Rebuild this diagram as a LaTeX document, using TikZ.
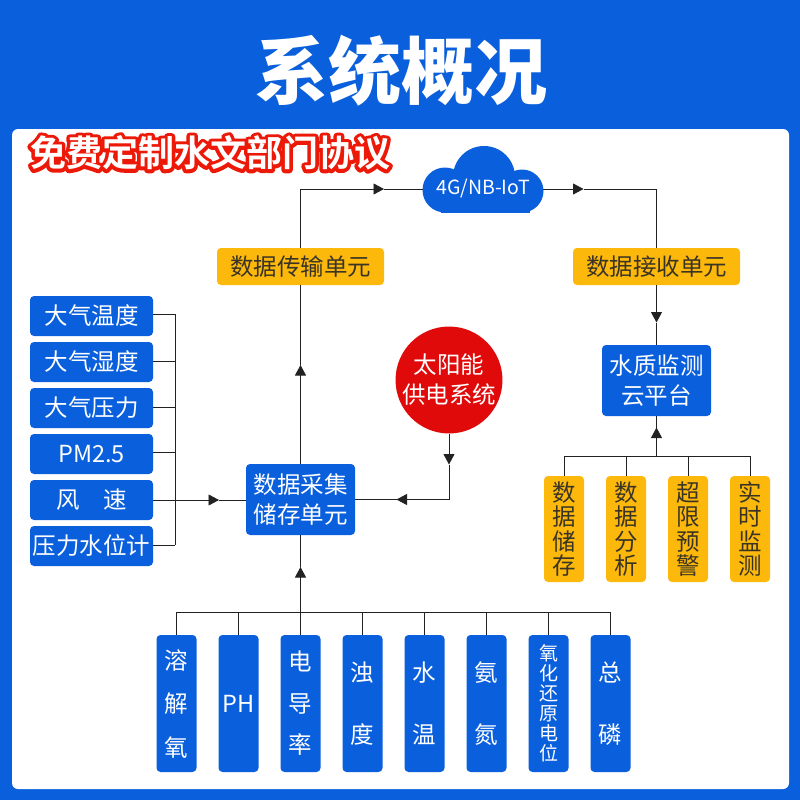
\documentclass[tikz,border=0pt]{standalone}
\usepackage{fontspec}
\setmainfont{Noto Sans CJK SC}
\newfontfamily\titlefont{Noto Sans CJK SC Black}
\newfontfamily\redfont{Noto Sans CJK SC Bold}
\usetikzlibrary{arrows.meta}
\definecolor{sysblue}{HTML}{0A5FDC}
\definecolor{sysyellow}{HTML}{FDB90B}
\definecolor{sysred}{HTML}{E00A0A}
\definecolor{syslink}{HTML}{222222}
\definecolor{sysink}{HTML}{3A3426}
\newcommand{\redoutline}[1]{\rlap{\special{pdf:code 7 w 1 j 0.93 0.1 0.03 RG 1 Tr}#1\special{pdf:code 0 Tr 1 w 0 j}}#1}
\tikzset{
    boxbase/.style={rounded corners=4pt,inner sep=0pt,align=center},
    bluebox/.style={boxbase,fill=sysblue,text=white,font=\fontsize{23.5}{30}\selectfont},
    yellowbox/.style={boxbase,fill=sysyellow,text=sysink,font=\fontsize{23.5}{30}\selectfont},
    sidebox/.style={bluebox,minimum width=123pt,minimum height=40pt},
    barbox/.style={bluebox,minimum width=40pt,minimum height=137pt},
    tallbox/.style={yellowbox,minimum width=40pt,minimum height=106pt,font=\fontsize{23.5}{24.5}\selectfont},
    link/.style={draw=syslink,line width=0.9pt},
    tip/.style={link,-{Triangle[length=10.5pt,width=11pt,color=syslink]}}
}
\begin{document}
\begin{tikzpicture}[x=1pt,y=-1pt]
    \useasboundingbox (0,0) rectangle (800,800);
    \fill[sysblue] (0,0) rectangle (800,800);
    \fill[white,rounded corners=6pt] (12,129) rectangle (789,789);
    \node[text=white,font=\fontsize{73}{73}\titlefont] (title) at (401,71) {系统概况};
    \node[text=white,font=\fontsize{36}{36}\redfont] (free) at (210,153) {\redoutline{免费定制水文部门协议}};
    % cloud
    \fill[sysblue] (445,190) circle[radius=22.5];
    \fill[sysblue] (484,177) circle[radius=31];
    \fill[sysblue] (522,191) circle[radius=21.5];
    \fill[sysblue] (441,190) rectangle (530,213);
    \node[text=white,font=\fontsize{19.5}{24}\selectfont,minimum width=120pt,inner sep=0pt] (cloud) at (483,189) {4G/NB-IoT};
    % main row
    \node[yellowbox,minimum width=167pt,minimum height=37pt] (send) at (300.5,266.5) {数据传输单元};
    \node[yellowbox,minimum width=167pt,minimum height=37pt] (recv) at (656.5,266.5) {数据接收单元};
    \node[bluebox,minimum width=109pt,minimum height=71pt] (collect) at (300.5,499.5) {数据采集\\储存单元};
    \node[bluebox,minimum width=109pt,minimum height=71pt] (cloudapp) at (656.5,380.5) {水质监测\\云平台};
    \node[circle,fill=sysred,text=white,inner sep=0pt,minimum size=106pt,align=center,
        font=\fontsize{23.5}{30}\selectfont] (solar) at (449,380) {太阳能\\供电系统};
    % left sensors
    \coordinate (lefttop) at (175,314);
    \coordinate (leftbot) at (175,545);
    \draw[link] (lefttop) -- (leftbot);
    \foreach \name/\y/\dy/\txt in {s1/316/2/大气温度,s2/362/1/大气湿度,s3/408/1/大气压力,s4/454/2/PM2.5,s5/500/0/风　速,s6/546/1/压力水位计} {
        \node[sidebox] (\name) at (91.5,\y) {\raisebox{-1.5pt}{\txt}};
        \draw[link] ([yshift=\dy pt]\name.east) -- ([yshift=\dy pt]\name.east -| lefttop);
    }
    \coordinate (tipleft) at (219,500);
    \draw[tip] (s5.east) -- (tipleft);
    \draw[link] (tipleft) -- (tipleft -| collect.west);
    % bottom sensors
    \coordinate (bus) at (300.5,612);
    \foreach \name/\x/\txt/\sp in {b1/176.5/溶\\解\\氧/43.5,b2/238.5/PH/30,b3/300.5/电\\导\\率/41.5,b4/362.5/浊\\度/62,
        b5/424.5/水\\温/62,b6/486.5/氨\\氮/62,b8/610.5/总\\磷/62} {
        \node[barbox,font=\fontsize{23.5}{\sp}\selectfont] (\name) at (\x,703.5) {\txt};
        \draw[link] (\name.north) -- (\name.north |- bus);
    }
    \node[barbox,font=\fontsize{19}{20}\selectfont] (b7) at (548.5,703.5) {氧\\化\\还\\原\\电\\位};
    \draw[link] (b7.north) -- (b7.north |- bus);
    \draw[link] (b1.north |- bus) -- (b8.north |- bus);
    \coordinate (tipbot) at (300.5,567);
    \draw[tip] (bus) -- (tipbot);
    \draw[link] (tipbot) -- (collect.south);
    % upper chain
    \coordinate (tipup) at (300.5,365);
    \coordinate (tipout) at (384,189);
    \coordinate (tipin) at (583.5,189);
    \coordinate (tipdown) at (656.5,322.5);
    \draw[tip] (collect.north) -- (tipup);
    \draw[link] (tipup) -- (send.south);
    \draw[tip] (send.north) |- (tipout);
    \draw[link] (tipout) -- (cloud.west);
    \draw[tip] (cloud.east) -- (tipin);
    \draw[link] (tipin) -| (recv.north);
    \draw[tip] (recv.south) -- (tipdown);
    \draw[link] (tipdown) -- (cloudapp.north);
    % solar
    \coordinate (tipsolar) at (449,464.5);
    \coordinate (tipright) at (396.5,499.5);
    \draw[tip] (solar.south) -- (tipsolar);
    \draw[tip] (tipsolar) |- (tipright);
    \draw[link] (tipright) -- (collect.east);
    % right outputs
    \coordinate (busright) at (656.5,456);
    \foreach \name/\x/\txt in {r1/564/数\\据\\储\\存,r2/626/数\\据\\分\\析,r3/688/超\\限\\预\\警,r4/750/实\\时\\监\\测} {
        \node[tallbox] (\name) at (\x,529) {\txt};
        \draw[link] (\name.north) -- (\name.north |- busright);
    }
    \draw[link] (r1.north |- busright) -- (r4.north |- busright);
    \coordinate (tipapp) at (656.5,427.5);
    \draw[tip] (busright) -- (tipapp);
    \draw[link] (tipapp) -- (cloudapp.south);
\end{tikzpicture}
\end{document}
